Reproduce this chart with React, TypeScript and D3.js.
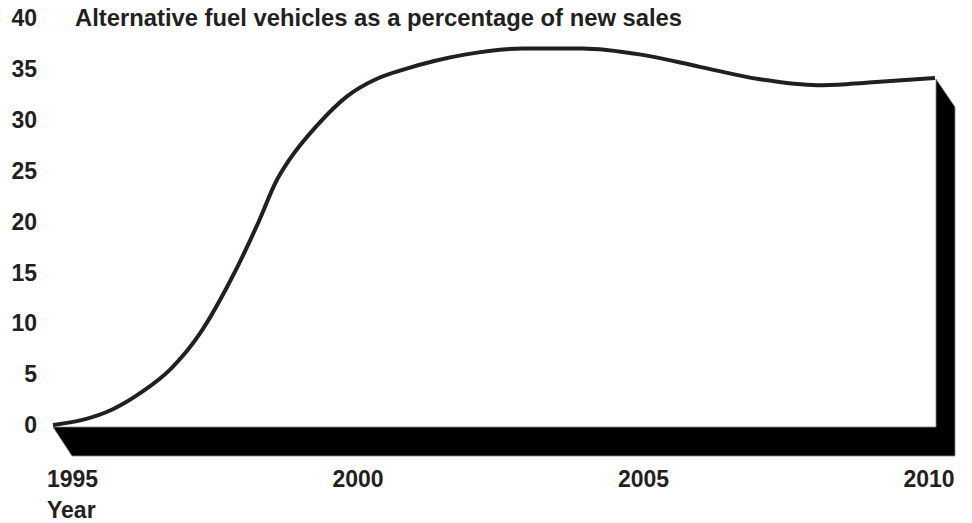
import React from "react";
import * as d3 from "d3";

const years = [1995, 1995.5, 1996, 1996.5, 1997, 1997.5, 1998, 1998.5, 1998.8, 1999, 1999.5, 2000, 2000.5, 2001, 2001.5, 2002, 2003, 2004, 2005, 2006, 2007, 2008, 2008.5, 2009, 2010];
const shares = [0, 0.5, 1.5, 3.2, 5.5, 9.0, 14.0, 20.0, 24.0, 25.9, 29.5, 32.3, 34.0, 35.0, 35.8, 36.4, 37.0, 37.0, 36.4, 35.2, 34.0, 33.4, 33.5, 33.7, 34.1];
const yTicks = [0, 5, 10, 15, 20, 25, 30, 35, 40];
const xTicks = [1995, 2000, 2005, 2010];
const title = "Alternative fuel vehicles as a percentage of new sales";
const xTitle = "Year";

export default function App() {
  const W = 972, H = 523;
  const x = d3.scaleLinear().domain([1995, 2010]).range([53, 935]);
  const y = d3.scaleLinear().domain([0, 40]).range([425, 18]);
  const xLabel = d3.scaleLinear().domain([1995, 2010]).range([72.5, 929]);
  const data = years.map((yr, i) => ({ yr, v: shares[i] }));
  const line = d3.line<{ yr: number; v: number }>()
    .x(d => x(d.yr))
    .y(d => y(d.v))
    .curve(d3.curveMonotoneX);

  const dx = 19, dy = 29;
  const x0 = x(1995), x1 = x(2010) + 1;
  const yb = y(0) + 2;
  const yEnd = y(shares[shares.length - 1]) + 1;
  const slab = [
    [x0, yb], [x1, yb], [x1, yEnd], [x1 + dx, yEnd + dy - 1], [x1 + dx, yb + dy], [x0 + dx, yb + dy],
  ].map(p => p.join(",")).join(" ");

  const font = "'Liberation Sans', Arial, Helvetica, sans-serif";
  const txt = "#231f20";

  return (
    <svg width={W} height={H} style={{ position: "absolute", left: 0, top: 0, background: "#fff" }}>
      <polygon points={slab} fill="#000" stroke="#888" strokeWidth={0.8} />
      <path d={line(data) || ""} fill="none" stroke={txt} strokeWidth={4} strokeLinecap="butt" />
      {yTicks.map(t => (
        <text key={t} x={37} y={y(t) + 8.2} textAnchor="end" fontFamily={font} fontWeight="bold" fontSize={23} fill={txt}>{t}</text>
      ))}
      <text x={75} y={y(40) + 8.2} fontFamily={font} fontWeight="bold" fontSize={23.8} fill={txt}>{title}</text>
      {xTicks.map(t => (
        <text key={t} x={xLabel(t)} y={487} textAnchor="middle" fontFamily={font} fontWeight="bold" fontSize={23} fill={txt}>{t}</text>
      ))}
      <text x={47} y={518} fontFamily={font} fontWeight="bold" fontSize={23} fill={txt}>{xTitle}</text>
    </svg>
  );
}
